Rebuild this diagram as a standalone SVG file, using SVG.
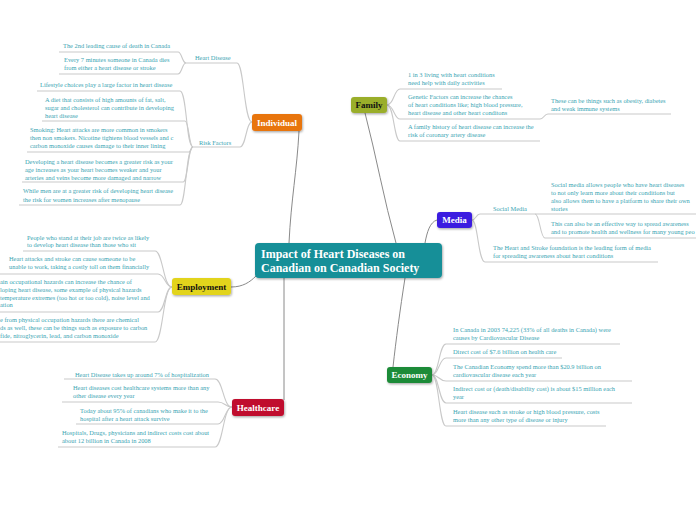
<svg xmlns="http://www.w3.org/2000/svg" width="696" height="520" viewBox="0 0 696 520">
<defs>
<filter id="sh" x="-20%" y="-30%" width="140%" height="170%">
<feDropShadow dx="0.8" dy="1.2" stdDeviation="1" flood-color="#000" flood-opacity="0.35"/>
</filter>
</defs>
<style>
.t{font-family:"Liberation Serif","Times New Roman",serif;font-size:6.4px;fill:#3aa5b3}
.n{font-family:"Liberation Serif","Times New Roman",serif;font-size:9px;font-weight:bold;fill:#fff;text-anchor:middle}
.nd{fill:#111}
.m{fill:none;stroke:#8a8a8a;stroke-width:1}
.s{fill:none;stroke:#c9c9c9;stroke-width:1.1}
</style>
<rect width="696" height="520" fill="#fff"/>

<g id="connectors">
<path class="m" d="M299,131 C297,170 291,200 289,243"/>
<path class="m" d="M365,113 C376,155 384,200 396,243"/>
<path class="m" d="M437,220 C430,222 427,232 425,243"/>
<path class="m" d="M231,287 C243,287 250,282 256,276"/>
<path class="m" d="M284,278 L284,400"/>
<path class="m" d="M405,278 C400,310 396,340 393,367"/>

<!-- Individual -->
<path class="s" d="M252,122 C244,122 244,63 237,63 L186,63"/>
<path class="s" d="M186,63 C182,63 182,52 178,52 L59,52"/>
<path class="s" d="M186,63 C182,63 182,74 178,74 L59,74"/>
<path class="s" d="M252,122 C246,122 246,147 240,147 L193,147"/>
<path class="s" d="M193,147 C186,147 187,91 180,91 L37,91"/>
<path class="s" d="M193,147 C189,147 189,121 185,121 L42,121"/>
<path class="s" d="M193,147 C191,147 191,152 189,152 L27,152"/>
<path class="s" d="M193,147 C188,147 188,182 183,182 L22,182"/>
<path class="s" d="M193,147 C186,147 186,205 180,205 L19,205"/>

<!-- Employment -->
<path class="s" d="M172,287 C163,287 163,251 155,251 L23,251"/>
<path class="s" d="M172,287 C165,287 165,274 158,274 L0,274"/>
<path class="s" d="M172,287 C165,287 165,312 158,312 L0,312"/>
<path class="s" d="M172,287 C163,287 163,342 155,342 L0,342"/>

<!-- Healthcare -->
<path class="s" d="M232,407 C223,407 223,379 215,379 L64,379"/>
<path class="s" d="M232,407 C225,407 225,402 218,402 L62,402"/>
<path class="s" d="M232,407 C225,407 225,424 218,424 L76,424"/>
<path class="s" d="M232,407 C223,407 223,447 215,447 L58,447"/>

<!-- Family -->
<path class="s" d="M387,105 C394,105 394,89 400,89 L502,89"/>
<path class="s" d="M387,105 C394,105 394,119 400,119 L540,119"/>
<path class="s" d="M540,119 C544,119 544,114 548,114 L671,114"/>
<path class="s" d="M387,105 C394,105 394,141 400,141 L540,141"/>

<!-- Media -->
<path class="s" d="M472,220 C476,220 476,214 480,214 L696,214"/>
<path class="s" d="M535,214 C540,214 540,238 545,238 L696,238"/>
<path class="s" d="M472,220 C478,220 478,262 485,262 L658,262"/>

<!-- Economy -->
<path class="s" d="M432,375 C439,375 439,344 446,344 L620,344"/>
<path class="s" d="M432,375 C439,375 439,358 446,358 L562,358"/>
<path class="s" d="M432,375 C439,375 439,381 446,381 L632,381"/>
<path class="s" d="M432,375 C439,375 439,403 446,403 L632,403"/>
<path class="s" d="M432,375 C439,375 439,426 446,426 L606,426"/>
</g>

<g id="center">
<rect x="255" y="243" width="187" height="35" rx="4" fill="#168f98" filter="url(#sh)"/>
<text x="261" y="257.5" font-family="Liberation Serif,serif" font-size="12" font-weight="bold" fill="#fff">Impact of Heart Diseases on</text>
<text x="261" y="271.5" font-family="Liberation Serif,serif" font-size="12" font-weight="bold" fill="#fff">Canadian on Canadian Society</text>
</g>

<g id="individual">
<rect x="252" y="114" width="50" height="17" rx="3" fill="#e8750f" filter="url(#sh)"/>
<text class="n" x="277" y="125.5">Individual</text>
</g>
<g id="individual-topics">
<text class="t" x="195" y="59.5">Heart Disease</text>
<text class="t" x="63" y="48">The 2nd leading cause of death in Canada</text>
<text class="t" x="64" y="62">Every 7 minutes someone in Canada dies</text>
<text class="t" x="64" y="70">from either a heart disease or stroke</text>
<text class="t" x="199" y="144.5">Risk Factors</text>
<text class="t" x="40" y="86.5">Lifestyle choices play a large factor in heart disease</text>
<text class="t" x="45" y="102">A diet that consists of  high amounts of fat, salt,</text>
<text class="t" x="45" y="110">sugar and cholesterol can contribute in developing</text>
<text class="t" x="45" y="118">heart disease</text>
<text class="t" x="30" y="132">Smoking: Heart attacks are more common in smokers</text>
<text class="t" x="30" y="140">then non smokers. Nicotine tightens blood vessels and c</text>
<text class="t" x="30" y="148">carbon monoxide causes damage to their inner lining</text>
<text class="t" x="25" y="163.5">Developing a heart disease becomes a greater risk as your</text>
<text class="t" x="25" y="171.5">age increases as your heart becomes weaker and your</text>
<text class="t" x="25" y="179.5">arteries and veins become more damaged and narrow</text>
<text class="t" x="23" y="193">While men are at a greater risk of developing heart disease</text>
<text class="t" x="23" y="201.5">the risk for women increases after menopause</text>
</g>

<g id="employment">
<rect x="172" y="278" width="59" height="17" rx="3" fill="#e2d41c" filter="url(#sh)"/>
<text class="n nd" x="201.5" y="289.5">Employment</text>
</g>
<g id="employment-topics">
<text class="t" x="27" y="239.5">People who stand at their job are twice as likely</text>
<text class="t" x="27" y="247">to develop heart disease than those who sit</text>
<text class="t" x="9" y="261">Heart attacks and stroke can cause someone to be</text>
<text class="t" x="9" y="269">unable to work, taking a costly toll on them financially</text>
<text class="t" x="0" y="284">ain occupational hazards can increase the chance of</text>
<text class="t" x="0" y="292">loping heart disease, some example of  physical hazards</text>
<text class="t" x="0" y="299.5">temperature extremes (too hot or too cold), noise level and</text>
<text class="t" x="0" y="307">ation</text>
<text class="t" x="0" y="322">e from physical occupation hazards there are chemical</text>
<text class="t" x="0" y="330">ds as well, these can be things such as exposure to carbon</text>
<text class="t" x="0" y="338">fide, nitroglycerin, lead, and carbon monoxide</text>
</g>

<g id="healthcare">
<rect x="232" y="399" width="52" height="17" rx="3" fill="#c0112f" filter="url(#sh)"/>
<text class="n" x="258" y="410.5">Healthcare</text>
</g>
<g id="healthcare-topics">
<text class="t" x="75" y="376.5">Heart Disease takes up around 7% of hospitalization</text>
<text class="t" x="73" y="390">Heart diseases cost healthcare systems more than any</text>
<text class="t" x="73" y="398">other disease every year</text>
<text class="t" x="80" y="413">Today about 95% of canadians who make it to the</text>
<text class="t" x="80" y="421">hospital after a heart attack survive</text>
<text class="t" x="62" y="434.5">Hospitals, Drugs, physicians and indirect costs cost about</text>
<text class="t" x="62" y="442.5">about 12 billion in Canada in 2008</text>
</g>

<g id="family">
<rect x="351" y="97" width="36" height="16" rx="3" fill="#9aae2c" filter="url(#sh)"/>
<text class="n nd" x="369" y="108">Family</text>
</g>
<g id="family-topics">
<text class="t" x="408" y="76.5">1 in 3 living with heart conditions</text>
<text class="t" x="408" y="84.5">need help with daily activities</text>
<text class="t" x="408" y="99">Genetic Factors can increase the chances</text>
<text class="t" x="408" y="107">of heart conditions like; high blood pressure,</text>
<text class="t" x="408" y="115">heart disease and other heart conditons</text>
<text class="t" x="551" y="103">These can be things such as obesity, diabetes</text>
<text class="t" x="551" y="111">and weak immune systems</text>
<text class="t" x="408" y="129">A family history of heart disease can increase the</text>
<text class="t" x="408" y="137"> risk of coronary artery disease</text>
</g>

<g id="media">
<rect x="437" y="212" width="35" height="16" rx="3" fill="#3a1fe0" filter="url(#sh)"/>
<text class="n" x="454.5" y="223">Media</text>
</g>
<g id="media-topics">
<text class="t" x="493" y="211">Social Media</text>
<text class="t" x="551" y="187">Social media allows people who have heart diseases</text>
<text class="t" x="551" y="195">to not only learn more about their conditions but</text>
<text class="t" x="551" y="203">also allows them to have a platform to share their own</text>
<text class="t" x="551" y="211">stories</text>
<text class="t" x="551" y="226">This can also be an effective way to spread awareness</text>
<text class="t" x="551" y="234">and to promote health and wellness for many young peo</text>
<text class="t" x="493" y="250">The Heart and Stroke foundation is the leading form of media</text>
<text class="t" x="493" y="258">for spreading awareness about heart conditions</text>
</g>

<g id="economy">
<rect x="387" y="367" width="45" height="16" rx="3" fill="#1f8b37" filter="url(#sh)"/>
<text class="n" x="409.5" y="378">Economy</text>
</g>
<g id="economy-topics">
<text class="t" x="453" y="332">In Canada in 2003 74,225 (33% of all deaths in Canada) were</text>
<text class="t" x="453" y="340">causes by Cardiovascular Disease</text>
<text class="t" x="453" y="354">Direct cost of $7.6 billion on health care</text>
<text class="t" x="453" y="369">The Canadian Economy spend more than $20.9 billion on</text>
<text class="t" x="453" y="377">cardiovascular disease each year</text>
<text class="t" x="453" y="390.5">Indirect cost or (death/disability cost) is about $15 million each</text>
<text class="t" x="453" y="399">year</text>
<text class="t" x="453" y="414">Heart disease such as stroke or high blood pressure, costs</text>
<text class="t" x="453" y="422">more than any other type of disease or injury</text>
</g>
</svg>
